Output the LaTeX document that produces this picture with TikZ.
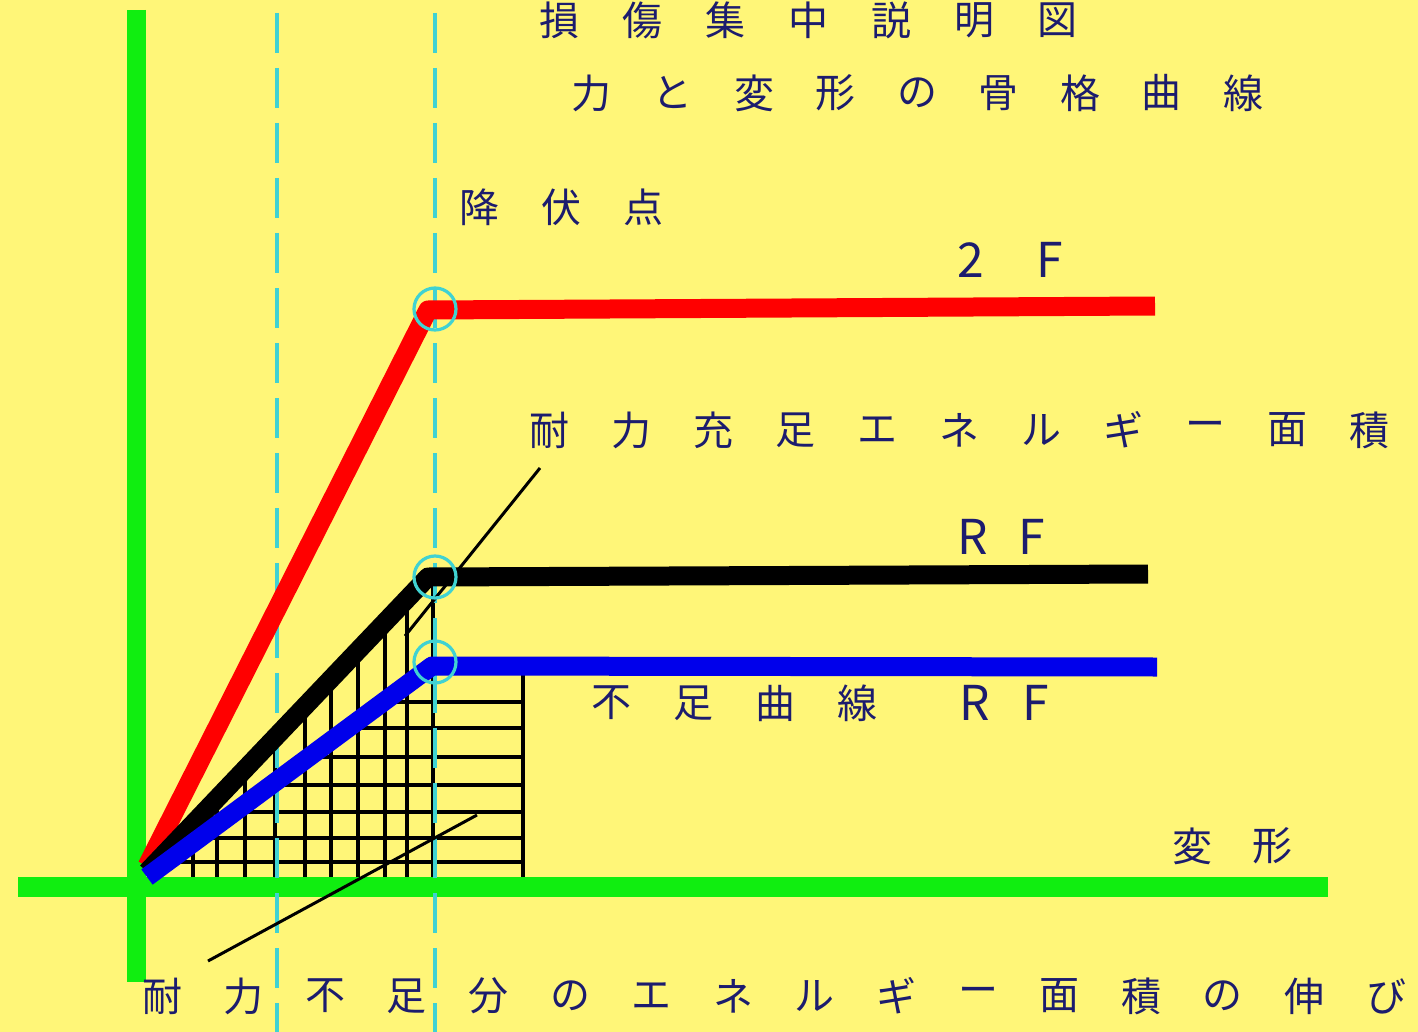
\documentclass[tikz,border=0pt]{standalone}
\usepackage{fontspec}
\newfontfamily\jp{Noto Sans CJK JP}
\definecolor{bg}{RGB}{255,246,120}
\definecolor{axisgreen}{RGB}{16,238,16}
\definecolor{cyanl}{RGB}{64,210,210}
\definecolor{redl}{RGB}{255,0,0}
\definecolor{bluel}{RGB}{0,0,235}
\definecolor{txtc}{RGB}{28,28,110}
\newcommand\spacedrow[5]{%
  \foreach \ch [count=\k from 0] in {#5}
    \node[txt] (#1-\k) at ({#2+\k*#3},#4) {\ch};}
\begin{document}
\begin{tikzpicture}[x=0.5pt,y=-0.5pt,
  axisline/.style={draw=axisgreen,line width=9.5pt},
  guide/.style={draw=cyanl,line width=2pt,dash pattern=on 20pt off 7.5pt},
  curve/.style={line width=9.5pt,line join=round},
  hatchline/.style={draw=black,line width=2.2pt},
  leader/.style={draw=black,line width=1.5pt},
  yieldmark/.style={draw=cyanl,line width=1.6pt,circle,minimum size=21pt,inner sep=0pt},
  txt/.style={text=txtc,font=\jp\fontsize{20}{20}\selectfont,inner sep=0pt},
  lat/.style={txt,font=\jp\fontsize{24}{24}\selectfont}]
\useasboundingbox (0,0) rectangle (1418,1032);
\clip (0,0) rectangle (1418,1032);
\fill[bg] (0,0) rectangle (1418,1032);

% key points
\coordinate (O) at (147,872);
\coordinate (Yr) at (428,310);
\coordinate (Ek) at (1155,306);
\coordinate (Yk) at (428,577);
\coordinate (Ekb) at (1148,574);
\coordinate (Yb) at (432,666);
\coordinate (Eb) at (1157,667);

% hatching: vertical lines up to the black curve
\foreach \xx/\yy in {193/823,217/798,245/768,275/737,305/705,331/677,358/649,385/620,407/597,433/585,523/667}
  \draw[hatchline] (\xx,886) -- (\xx,\yy);
% hatching: horizontal lines from the blue curve
\foreach \yy/\xx in {702/384,728/349,757/309,785/271,812/235,838/200,862/167}
  \draw[hatchline] (\xx,\yy) -- (523,\yy);

% axes
\draw[axisline] (136,10) -- (136,982);
\draw[axisline,line width=10pt] (18,887) -- (1328,887);

% dashed guides
\draw[guide] (277,13) -- (277,1032);
\draw[guide] (435,13) -- (435,1032);

% leader lines
\coordinate (L1a) at (540,468);
\coordinate (L1b) at (405,636);
\coordinate (L2a) at (477,815);
\coordinate (L2b) at (208,961);
\draw[leader] (L1a) -- (L1b);
\draw[leader] (L2a) -- (L2b);

% curves
\draw[curve,redl] ([shift={(0,-6)}]O) -- (Yr) -- (Ek);
\draw[curve,black] (O) -- (Yk) -- (Ekb);
\draw[curve,bluel] ([shift={(0,5)}]O) -- (Yb) -- (Eb);

% yield markers
\node[yieldmark] (m1) at (435,309) {};
\node[yieldmark] (m2) at (435,577) {};
\node[yieldmark] (m3) at (435,662) {};

% texts
\spacedrow{title}{559}{83}{20}{損,傷,集,中,説,明,図}
\spacedrow{sub}{591}{81.5}{93}{力,と,変,形,の,骨,格,曲,線}
\spacedrow{yield}{479}{82}{207}{降,伏,点}
\node[lat] (twoF-a) at (971,260) {2};
\node[lat] (twoF-b) at (1050,260) {F};
\spacedrow{full}{549}{82}{430}{耐,力,充,足,エ,ネ,ル,ギ,ー,面,積}
\node[lat] (rf-a) at (973,537) {R};
\node[lat] (rf-b) at (1032,537) {F};
\spacedrow{lack}{611}{82}{703}{不,足,曲,線}
\node[lat] (rf2-a) at (975,703) {R};
\node[lat] (rf2-b) at (1036,703) {F};
\node[txt] (def-a) at (1192,846) {変};
\node[txt] (def-b) at (1272,846) {形};
\spacedrow{bottom}{162}{81.6}{996}{耐,力,不,足,分,の,エ,ネ,ル,ギ,ー,面,積,の,伸,び}
\end{tikzpicture}
\end{document}
